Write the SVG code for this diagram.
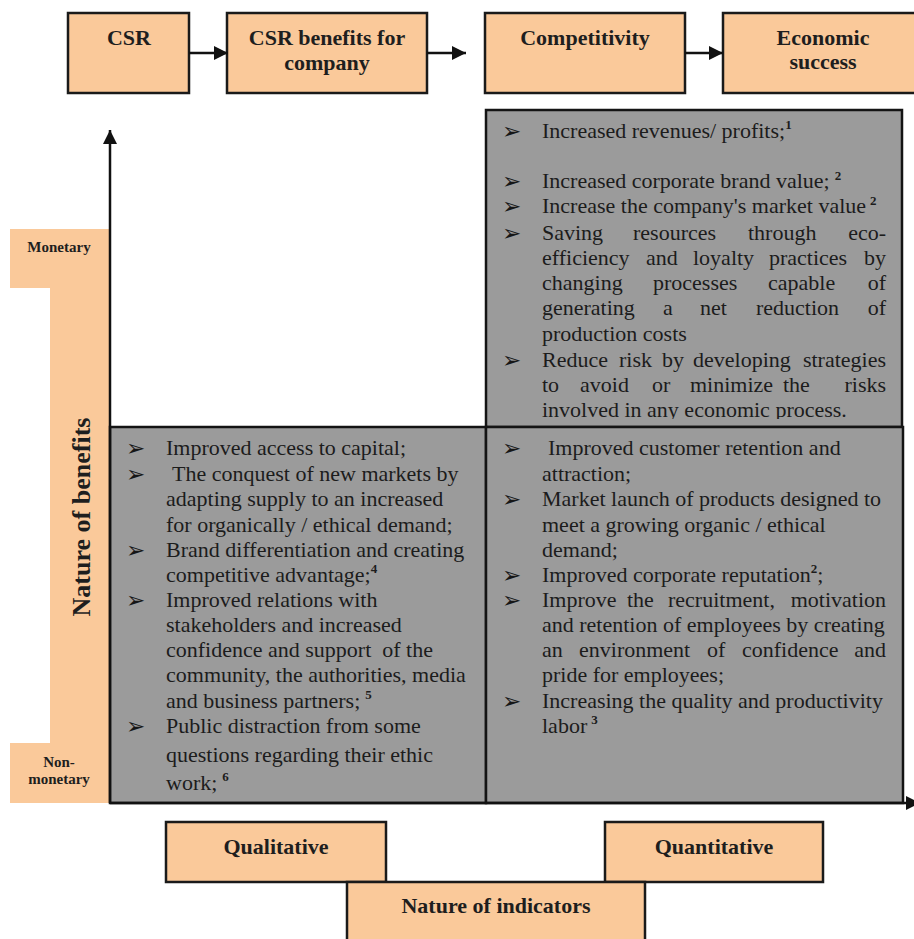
<svg xmlns="http://www.w3.org/2000/svg" width="914" height="939" viewBox="0 0 914 939">
<style>
.box{fill:#FAC99A;stroke:#1a1a1a;stroke-width:2.5}
.grey{fill:#9b9b9b;stroke:#141414;stroke-width:2.5}
.h{font-family:"Liberation Serif","Times New Roman",serif;font-weight:bold;font-size:22px;fill:#1e1e1e;text-anchor:middle}
.sm{font-family:"Liberation Serif","Times New Roman",serif;font-weight:bold;font-size:15px;fill:#1e1e1e;text-anchor:middle}
.t{font-family:"Liberation Serif","Times New Roman",serif;font-size:22px;fill:#1c1c1c}
.e{text-anchor:end}
.b{font-family:"DejaVu Sans",sans-serif;font-size:23px;fill:#161616}
.sup{font-size:13px;font-weight:bold}
.ln{fill:none;stroke:#111;stroke-width:2.5}
</style>
<defs>
<marker id="ah" viewBox="0 0 14 14" refX="14" refY="7" markerWidth="14" markerHeight="14" markerUnits="userSpaceOnUse" orient="auto">
<path d="M0,0 L14,7 L0,14 z" fill="#111"/>
</marker>
<clipPath id="clipTR"><rect x="486" y="110" width="416" height="309"/></clipPath>
</defs>
<rect width="914" height="939" fill="#fff"/>

<g id="axis-benefits">
<path d="M10,229 H110 V803 H10 V743 H50 V288 H10 Z" fill="#FAC99A"/>
<text class="sm" x="59" y="252">Monetary</text>
<text class="sm" x="59" y="767">Non-</text>
<text class="sm" x="59" y="784">monetary</text>
<text class="h" style="font-size:26px" transform="translate(90,517) rotate(-90)">Nature of benefits</text>
</g>

<g id="node-csr">
<rect class="box" x="68" y="13" width="121" height="80"/>
<text class="h" x="129" y="45">CSR</text>
</g>
<g id="node-benefits">
<rect class="box" x="227" y="13" width="200" height="80"/>
<text class="h" x="327" y="45">CSR benefits for</text>
<text class="h" x="327" y="70">company</text>
</g>
<g id="node-competitivity">
<rect class="box" x="485" y="13" width="200" height="80"/>
<text class="h" x="585" y="45">Competitivity</text>
</g>
<g id="node-economic">
<rect class="box" x="723" y="13" width="220" height="80"/>
<text class="h" x="823" y="45">Economic</text>
<text class="h" x="823" y="69">success</text>
</g>

<g id="quad-monetary-quantitative">
<rect class="grey" x="486" y="110" width="416" height="317"/>
<g clip-path="url(#clipTR)">
<text class="b" x="502" y="139">➢</text>
<text class="t" x="542" y="138">Increased revenues/ profits;<tspan class="sup" dy="-9">1</tspan></text>
<text class="b" x="502" y="189">➢</text>
<text class="t" x="542" y="188">Increased corporate brand value;<tspan class="sup" dx="5" dy="-8">2</tspan></text>
<text class="b" x="502" y="214">➢</text>
<text class="t" x="542" y="213">Increase the company's market value<tspan class="sup" dx="4" dy="-8">2</tspan></text>
<text class="b" x="502" y="241">➢</text>
<text class="t" y="240"><tspan x="542">Saving</tspan><tspan x="633">resources</tspan><tspan x="748">through</tspan><tspan x="886" class="e">eco-</tspan></text>
<text class="t" y="265"><tspan x="542">efficiency</tspan><tspan x="646">and</tspan><tspan x="693">loyalty</tspan><tspan x="769">practices</tspan><tspan x="886" class="e">by</tspan></text>
<text class="t" y="290"><tspan x="542">changing</tspan><tspan x="653">processes</tspan><tspan x="768">capable</tspan><tspan x="886" class="e">of</tspan></text>
<text class="t" y="315"><tspan x="542">generating</tspan><tspan x="663">a</tspan><tspan x="700">net</tspan><tspan x="756">reduction</tspan><tspan x="886" class="e">of</tspan></text>
<text class="t" x="542" y="341">production costs</text>
<text class="b" x="502" y="368">➢</text>
<text class="t" y="367"><tspan x="542">Reduce</tspan><tspan x="619">risk</tspan><tspan x="662">by</tspan><tspan x="693">developing</tspan><tspan x="886" class="e">strategies</tspan></text>
<text class="t" y="392"><tspan x="542">to</tspan><tspan x="580">avoid</tspan><tspan x="652">or</tspan><tspan x="690">minimize</tspan><tspan x="783">the</tspan><tspan x="886" class="e">risks</tspan></text>
<text class="t" x="542" y="417">involved in any economic process.</text>
</g>
</g>

<g id="quad-nonmonetary-qualitative">
<rect class="grey" x="110" y="427" width="376" height="376"/>
<text class="b" x="126" y="456">➢</text>
<text class="t" x="166" y="455">Improved access to capital;</text>
<text class="b" x="126" y="482">➢</text>
<text class="t" x="172" y="481">The conquest of new markets by</text>
<text class="t" x="166" y="506">adapting supply to an increased</text>
<text class="t" x="166" y="532">for organically / ethical demand;</text>
<text class="b" x="126" y="558">➢</text>
<text class="t" x="166" y="557">Brand differentiation and creating</text>
<text class="t" x="166" y="582">competitive advantage;<tspan class="sup" dy="-9">4</tspan></text>
<text class="b" x="126" y="608">➢</text>
<text class="t" x="166" y="607">Improved relations with</text>
<text class="t" x="166" y="632">stakeholders and increased</text>
<text class="t" x="166" y="657" xml:space="preserve">confidence and support  of the</text>
<text class="t" x="166" y="682">community, the authorities, media</text>
<text class="t" x="166" y="708">and business partners;<tspan class="sup" dx="5" dy="-9">5</tspan></text>
<text class="b" x="126" y="734">➢</text>
<text class="t" x="166" y="733">Public distraction from some</text>
<text class="t" x="166" y="762">questions regarding their ethic</text>
<text class="t" x="166" y="790">work;<tspan class="sup" dx="5" dy="-9">6</tspan></text>
</g>

<g id="quad-nonmonetary-quantitative">
<rect class="grey" x="486" y="427" width="417" height="376"/>
<text class="b" x="502" y="456">➢</text>
<text class="t" x="548" y="455">Improved customer retention and</text>
<text class="t" x="542" y="481">attraction;</text>
<text class="b" x="502" y="507">➢</text>
<text class="t" x="542" y="506">Market launch of products designed to</text>
<text class="t" x="542" y="532">meet a growing organic / ethical</text>
<text class="t" x="542" y="557">demand;</text>
<text class="b" x="502" y="583">➢</text>
<text class="t" x="542" y="582">Improved corporate reputation<tspan class="sup" dy="-9">2</tspan><tspan dy="9">;</tspan></text>
<text class="b" x="502" y="608">➢</text>
<text class="t" y="607"><tspan x="542">Improve</tspan><tspan x="627">the</tspan><tspan x="668">recruitment,</tspan><tspan x="886" class="e">motivation</tspan></text>
<text class="t" x="542" y="632">and retention of employees by creating</text>
<text class="t" y="657"><tspan x="542">an</tspan><tspan x="579">environment</tspan><tspan x="707">of</tspan><tspan x="742">confidence</tspan><tspan x="886" class="e">and</tspan></text>
<text class="t" x="542" y="682">pride for employees;</text>
<text class="b" x="502" y="709">➢</text>
<text class="t" x="542" y="708">Increasing the quality and productivity</text>
<text class="t" x="542" y="733">labor<tspan class="sup" dx="4" dy="-9">3</tspan></text>
</g>

<g id="node-qualitative">
<rect class="box" x="166" y="822" width="220" height="60"/>
<text class="h" x="276" y="854">Qualitative</text>
</g>
<g id="node-quantitative">
<rect class="box" x="605" y="822" width="218" height="60"/>
<text class="h" x="714" y="854">Quantitative</text>
</g>
<g id="node-indicators">
<rect class="box" x="347" y="882" width="298" height="80"/>
<text class="h" x="496" y="913">Nature of indicators</text>
</g>

<g id="connectors">
<path class="ln" d="M189,53 H228" marker-end="url(#ah)"/>
<path class="ln" d="M427,53 H466" marker-end="url(#ah)"/>
<path class="ln" d="M685,53 H723" marker-end="url(#ah)"/>
<path class="ln" d="M110,803 V130" marker-end="url(#ah)"/>
<path class="ln" d="M110,803 H920" marker-end="url(#ah)"/>
</g>
</svg>
